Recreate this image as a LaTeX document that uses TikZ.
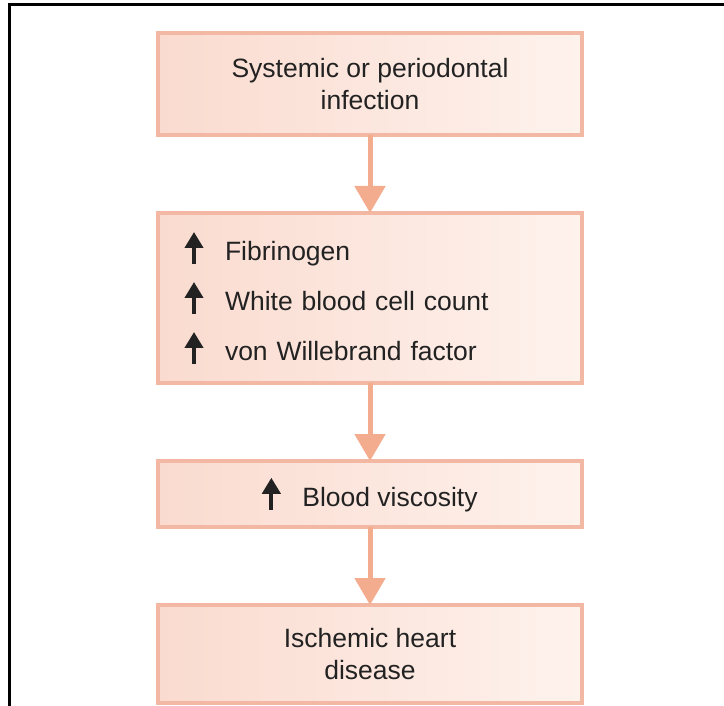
\documentclass[tikz,border=0pt]{standalone}
\usepackage{fontspec}
\setmainfont{Liberation Sans}
\usetikzlibrary{arrows.meta,positioning}
\definecolor{boxline}{RGB}{242,184,164}
\definecolor{boxleft}{RGB}{250,219,207}
\definecolor{boxright}{RGB}{254,242,237}
\definecolor{flowarrow}{RGB}{244,172,143}
\definecolor{textgray}{RGB}{34,34,34}
\newcommand{\upmark}{\tikz[baseline=-1pt]\draw[line width=4pt,textgray,
  -{Triangle[width=18pt,length=16pt]}] (0,-4pt) -- (0,28pt);}
\tikzset{
  basic/.style  = {draw=boxline, line width=3.5pt, left color=boxleft,
                   right color=boxright, text=textgray, rectangle,
                   minimum width=424pt, outer sep=0pt},
  cause/.style  = {basic, align=center, font=\fontsize{26.5}{32}\selectfont},
  marker/.style = {basic, align=left, text width=370pt, inner xsep=27pt,
                   font=\fontsize{26.5}{50}\selectfont},
  flow/.style   = {draw=flowarrow, line width=5pt,
                   -{Triangle[width=30pt,length=27pt]}}
}
\begin{document}
\begin{tikzpicture}[x=1pt,y=1pt,node distance=78pt]
  \useasboundingbox (0,0) rectangle (724,-706);
  % frame round the figure
  \draw[line width=3pt] (9,-706) -- (9,-5) -- (724,-5);

  % the four steps, top to bottom
  \node[cause, minimum height=102pt] (infection) at (370,-84)
    {Systemic or periodontal\\infection};
  \node[marker, minimum height=170pt, below=of infection] (markers)
    {\upmark\hspace{22pt}Fibrinogen\\
     \upmark\hspace{22pt}White blood cell count\\
     \upmark\hspace{22pt}von Willebrand factor};
  \node[cause, minimum height=66pt, below=of markers] (viscosity)
    {\upmark\hspace{22pt}Blood viscosity};
  \node[cause, minimum height=98pt, below=of viscosity] (disease)
    {Ischemic heart\\disease};

  % arrows between the steps
  \draw[flow] (infection) -- (markers);
  \draw[flow] (markers) -- (viscosity);
  \draw[flow] (viscosity) -- (disease);
\end{tikzpicture}
\end{document}
